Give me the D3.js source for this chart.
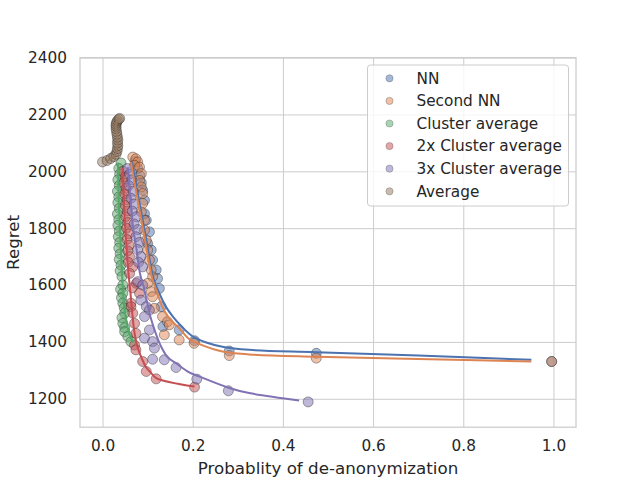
<!DOCTYPE html>
<html>
<head>
<meta charset="utf-8">
<script src="https://cdn.jsdelivr.net/npm/d3@7"></script>
<style>
  body { margin: 0; background: #fff; }
  text { font-family: "DejaVu Sans", sans-serif; fill: #262626; }
</style>
</head>
<body>
<script>
// scatter values, [probability, regret]
var nn = [[0.072,2035],[0.078,2010],[0.083,1985],[0.086,1960],[0.089,1933],[0.093,1898],[0.093,1851],
  [0.097,1828],[0.104,1787],[0.100,1746],[0.108,1723],[0.111,1688],[0.119,1653],[0.122,1623],[0.126,1588],
  [0.130,1524],[0.134,1454],[0.170,1442],[0.204,1404],[0.281,1368],[0.474,1360],[0.996,1331]];
var secondNN = [[0.067,2050],[0.074,2044],[0.078,2033],[0.071,2021],[0.082,2015],[0.086,1992],[0.082,1968],
  [0.086,1945],[0.089,1922],[0.089,1887],[0.086,1857],[0.093,1828],[0.093,1793],[0.097,1758],[0.100,1723],
  [0.104,1688],[0.108,1653],[0.111,1629],[0.100,1606],[0.108,1577],[0.111,1559],[0.115,1518],[0.133,1489],
  [0.144,1471],[0.148,1460],[0.137,1425],[0.170,1407],[0.203,1395],[0.281,1352],[0.474,1343],[0.996,1331]];
var cluster = [[0.041,2029],[0.036,2010],[0.038,1990],[0.034,1970],[0.037,1950],[0.033,1930],[0.036,1910],
  [0.034,1890],[0.037,1870],[0.033,1850],[0.036,1830],[0.034,1810],[0.037,1790],[0.035,1770],[0.038,1750],
  [0.036,1730],[0.039,1710],[0.037,1690],[0.041,1670],[0.039,1650],[0.043,1630],[0.045,1600],[0.040,1585],
  [0.045,1571],[0.042,1555],[0.045,1536],[0.048,1520],[0.049,1501],[0.043,1485],[0.045,1465],[0.049,1450],
  [0.049,1436],[0.056,1419],[0.063,1401]];
var cluster2 = [[0.045,2000],[0.050,1980],[0.047,1960],[0.052,1940],[0.049,1920],[0.054,1900],[0.050,1880],
  [0.055,1860],[0.051,1840],[0.056,1820],[0.053,1800],[0.058,1780],[0.054,1760],[0.059,1740],[0.056,1720],
  [0.060,1700],[0.057,1680],[0.067,1664],[0.060,1641],[0.075,1606],[0.066,1590],[0.082,1571],[0.063,1536],
  [0.063,1524],[0.067,1501],[0.071,1465],[0.074,1430],[0.071,1389],[0.074,1372],[0.089,1331],[0.097,1296],
  [0.119,1270],[0.204,1241]];
var cluster3 = [[0.055,2010],[0.060,1990],[0.065,1970],[0.058,1950],[0.068,1930],[0.063,1905],[0.070,1885],
  [0.066,1860],[0.075,1840],[0.070,1815],[0.078,1795],[0.074,1770],[0.082,1750],[0.078,1725],[0.085,1700],
  [0.080,1680],[0.089,1664],[0.078,1612],[0.089,1600],[0.085,1547],[0.097,1524],[0.104,1512],[0.093,1489],
  [0.104,1442],[0.093,1413],[0.111,1401],[0.115,1378],[0.111,1339],[0.137,1337],[0.163,1310],[0.209,1269],
  [0.279,1228],[0.456,1189]];
var average = [[0.000,2033],[0.010,2038],[0.018,2045],[0.025,2052],[0.030,2060],[0.032,2070],[0.033,2080],
  [0.034,2090],[0.033,2100],[0.034,2110],[0.033,2120],[0.032,2130],[0.031,2140],[0.030,2150],[0.030,2158],
  [0.030,2165],[0.031,2172],[0.033,2178],[0.036,2183],[0.038,2186]];

// fitted curves, also
var nnFit = [[0.065,2033],[0.074,1957],[0.085,1863],[0.096,1769],[0.106,1676],[0.114,1618],[0.126,1571],
  [0.140,1525],[0.156,1489],[0.175,1455],[0.200,1419],[0.230,1398],[0.266,1383],[0.325,1372],[0.474,1364],
  [0.700,1352],[0.951,1337]];
var secondNNFit = [[0.063,2033],[0.071,1957],[0.082,1863],[0.093,1769],[0.104,1670],[0.111,1618],[0.121,1575],
  [0.132,1525],[0.148,1483],[0.170,1448],[0.192,1410],[0.215,1392],[0.266,1366],[0.325,1356],[0.474,1348],
  [0.700,1340],[0.951,1331]];
var clusterFit = [[0.034,2030],[0.035,1950],[0.037,1850],[0.040,1750],[0.043,1650],[0.046,1560],[0.050,1500],
  [0.055,1455],[0.061,1420],[0.068,1398]];
var cluster2Fit = [[0.045,2010],[0.047,1920],[0.049,1840],[0.053,1740],[0.057,1650],[0.062,1571],[0.066,1500],
  [0.071,1431],[0.078,1380],[0.087,1342],[0.097,1310],[0.108,1290],[0.119,1273],[0.204,1243]];
var cluster3Fit = [[0.056,2015],[0.062,1900],[0.068,1800],[0.076,1720],[0.083,1641],[0.093,1582],[0.106,1489],
  [0.118,1430],[0.130,1383],[0.145,1345],[0.163,1325],[0.190,1295],[0.215,1278],[0.281,1238],[0.325,1220],
  [0.436,1194]];
var averageFit = [[0.010,2037],[0.020,2045],[0.028,2058],[0.032,2080],[0.033,2110],[0.031,2140],[0.030,2165],
  [0.034,2183]];

var labels = ["NN", "Second NN", "Cluster average", "2x Cluster average", "3x Cluster average", "Average"];
var colors = ["#4c72b0", "#dd8452", "#55a868", "#c44e52", "#8172b3", "#937860"];
var points = [nn, secondNN, cluster, cluster2, cluster3, average];
var fits = [nnFit, secondNNFit, clusterFit, cluster2Fit, cluster3Fit, averageFit];
var xTicks = [0, 0.2, 0.4, 0.6, 0.8, 1.0];
var yTicks = [1200, 1400, 1600, 1800, 2000, 2200, 2400];

var w = 640, h = 480;
var axLeft = 80, axRight = 576, axTop = 57.6, axBottom = 427.2;

var x = d3.scaleLinear().domain([-0.05, 1.05]).range([axLeft, axRight]);
var y = d3.scaleLinear().domain([1100, 2400]).range([axBottom, axTop]);

var svg = d3.select("body").append("svg")
            .attr("width", w)
            .attr("height", h);

function styleAxis(g) {
  g.select(".domain").remove();
  g.selectAll("line").attr("stroke", "#cccccc").attr("stroke-width", 1);
  g.selectAll("text").attr("font-size", "15.3px").attr("fill", "#262626").attr("font-family", "DejaVu Sans");
}

// grid
svg.append("g")
   .attr("transform", "translate(0," + axBottom + ")")
   .call(d3.axisBottom(x).tickValues(xTicks).tickSizeInner(-(axBottom - axTop)).tickSizeOuter(0)
           .tickFormat(d3.format(".1f")).tickPadding(13))
   .call(styleAxis);

svg.append("g")
   .attr("transform", "translate(" + axLeft + ",0)")
   .call(d3.axisLeft(y).tickValues(yTicks).tickSizeInner(-(axRight - axLeft)).tickSizeOuter(0)
           .tickFormat(d3.format("d")).tickPadding(13))
   .call(styleAxis);

svg.append("rect")
   .attr("x", axLeft).attr("y", axTop)
   .attr("width", axRight - axLeft).attr("height", axBottom - axTop)
   .attr("fill", "none")
   .attr("stroke", "#cccccc")
   .attr("stroke-width", 1.25);

var plot = svg.append("g");

// scatters first, then lines (matplotlib zorder)
points.forEach(function(pts, i) {
  plot.append("g").selectAll("circle")
      .data(pts)
      .enter().append("circle")
      .attr("cx", function(d) { return x(d[0]); })
      .attr("cy", function(d) { return y(d[1]); })
      .attr("r", 5)
      .attr("fill", colors[i])
      .attr("fill-opacity", 0.5)
      .attr("stroke", "#222")
      .attr("stroke-opacity", 0.4)
      .attr("stroke-width", 1);
});

var line = d3.line()
             .x(function(d) { return x(d[0]); })
             .y(function(d) { return y(d[1]); })
             .curve(d3.curveCatmullRom.alpha(0.5));

fits.forEach(function(f, i) {
  plot.append("path")
      .datum(f)
      .attr("d", line)
      .attr("fill", "none")
      .attr("stroke", colors[i])
      .attr("stroke-width", 2);
});

// axis labels
svg.append("text")
   .attr("x", (axLeft + axRight) / 2)
   .attr("y", 474)
   .attr("text-anchor", "middle")
   .attr("font-size", "16.7px")
   .text("Probablity of de-anonymization");

svg.append("text")
   .attr("transform", "translate(19," + ((axTop + axBottom) / 2) + ") rotate(-90)")
   .attr("text-anchor", "middle")
   .attr("font-size", "16.7px")
   .text("Regret");

// legend
var legend = svg.append("g");
legend.append("rect")
      .attr("x", 367.5).attr("y", 65)
      .attr("width", 201).attr("height", 141)
      .attr("rx", 3)
      .attr("fill", "#ffffff")
      .attr("fill-opacity", 0.8)
      .attr("stroke", "#cccccc")
      .attr("stroke-width", 1);

var rows = legend.selectAll("g.row")
                 .data(labels)
                 .enter().append("g")
                 .attr("class", "row")
                 .attr("transform", function(d, i) { return "translate(0," + (78.3 + i * 22.6) + ")"; });

rows.append("circle")
    .attr("cx", 389.5).attr("cy", 0)
    .attr("r", 3.6)
    .attr("fill", function(d, i) { return colors[i]; })
    .attr("fill-opacity", 0.5)
    .attr("stroke", "#222")
    .attr("stroke-opacity", 0.3)
    .attr("stroke-width", 0.8);

rows.append("text")
    .attr("x", 416.5).attr("y", 5.3)
    .attr("font-size", "15.3px")
    .text(function(d) { return d; });
</script>
</body>
</html>
